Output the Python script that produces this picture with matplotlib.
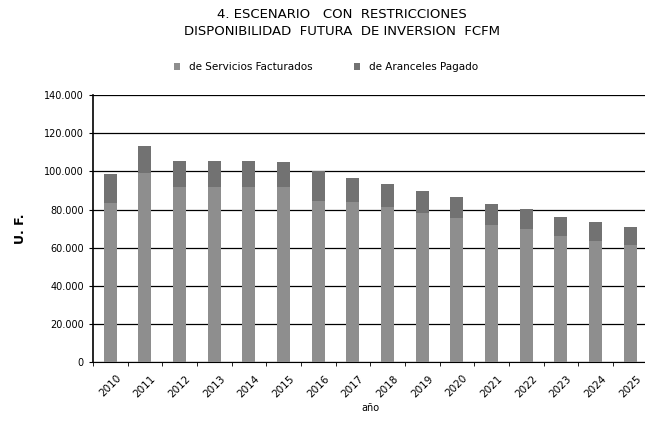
import matplotlib
matplotlib.use("Agg")
import numpy as np
from matplotlib import pyplot as plt
from matplotlib.ticker import FuncFormatter

years = ['2010', '2011', '2012', '2013', '2014', '2015', '2016', '2017',
         '2018', '2019', '2020', '2021', '2022', '2023', '2024', '2025']
total = [98500, 113400, 105600, 105600, 105600, 104800, 100400, 96400,
         93400, 89900, 86400, 82900, 80100, 76300, 73500, 71000]
aranceles = [15000, 14000, 14000, 13500, 13500, 13000, 16000, 12500,
             12000, 11500, 11000, 11000, 10500, 10000, 10000, 9500]
servicios = [t - a for t, a in zip(total, aranceles)]

plt.rcParams['font.family'] = ['DejaVu Sans']

fig = plt.figure(figsize=(6.45, 4.25), dpi=100)
ax = fig.add_axes([0.144, 0.148, 0.86, 0.628])

x = np.arange(len(years))
w = 0.37
ax.bar(x, servicios, w, color='#8e8e8e', label='de Servicios Facturados', zorder=3)
ax.bar(x, aranceles, w, bottom=servicios, color='#727272',
       label='de Aranceles Pagado', zorder=3)

ax.set_ylim(0, 140000)
ax.set_xlim(-0.46, 15.3)
ax.set_yticks(np.arange(0, 140001, 20000))
ax.yaxis.set_major_formatter(FuncFormatter(lambda v, p: f"{int(v):,}".replace(',', '.')))
ax.yaxis.grid(True, color='black', linewidth=0.9, zorder=0)

ax.set_xticks(x)
ax.set_xticklabels(years, rotation=45, fontsize=7.5)
ax.set_xticks(np.arange(-0.5, 16, 1), minor=True)
ax.tick_params(axis='x', which='major', length=0, pad=8)
ax.tick_params(axis='x', which='minor', length=3)
ax.tick_params(axis='y', labelsize=7, length=3)

for s in ['top', 'right']:
    ax.spines[s].set_visible(False)
ax.spines['left'].set_linewidth(1.2)

ax.set_ylabel('U. F.', fontsize=9, fontweight='bold', labelpad=12)
ax.set_xlabel('año', fontsize=7, labelpad=3)

fig.text(0.53, 0.967, '4. ESCENARIO   CON  RESTRICCIONES', ha='center', va='center',
         fontsize=9.5)
fig.text(0.53, 0.925, 'DISPONIBILIDAD  FUTURA  DE INVERSION  FCFM', ha='center',
         va='center', fontsize=9.5)

ax.legend(loc='center', bbox_to_anchor=(0.42, 1.105), ncol=2, frameon=False,
          fontsize=7.5, handlelength=0.6, handleheight=0.6, columnspacing=4)

fig.savefig('out.png', dpi=100)
